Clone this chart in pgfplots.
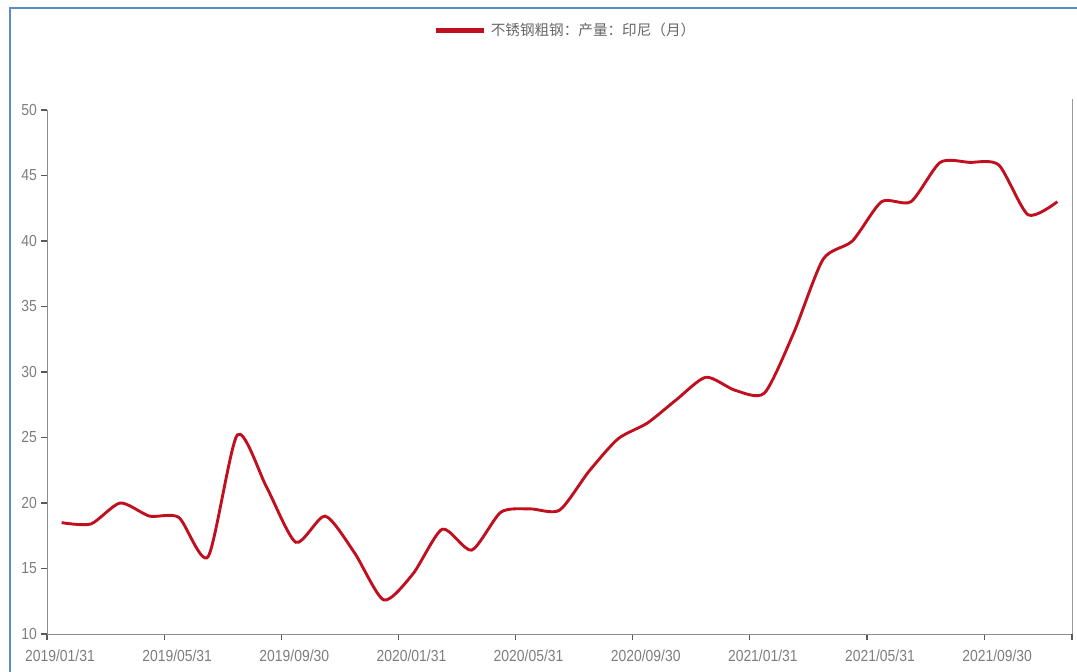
\documentclass[border=0pt]{standalone}
\usepackage{fontspec}
\setmainfont{Liberation Sans}[FakeStretch=0.87]
\newfontfamily\cjk{Noto Sans CJK SC}
\usepackage{pgfplots}
\pgfplotsset{compat=1.18}
\usepackage{pgfplotstable}

\definecolor{linered}{RGB}{192,16,32}
\definecolor{frameblue}{RGB}{90,140,205}
\definecolor{labelgray}{RGB}{125,125,125}

% monthly output, 2019/01 .. 2021/11
\pgfplotstableread{
i val
0 18.5
1 18.4
2 20.0
3 19.0
4 18.9
5 15.9
6 25.2
7 21.2
8 17.0
9 19.0
10 16.2
11 12.6
12 14.6
13 18.0
14 16.4
15 19.3
16 19.55
17 19.45
18 22.4
19 24.9
20 26.1
21 27.9
22 29.6
23 28.6
24 28.4
25 33.0
26 38.6
27 40.0
28 43.0
29 43.0
30 46.0
31 46.0
32 45.8
33 42.0
34 43.0
}\prodtable

\begin{document}
\begin{tikzpicture}
\path[use as bounding box] (-23.5pt,-19pt) rectangle (515pt,317pt);
\draw[frameblue, line width=1pt] (-18.5pt,-19pt) -- (-18.5pt,313pt) -- (515pt,313pt);
\begin{axis}[
  at={(0pt,0pt)}, anchor=south west,
  scale only axis, width=512.5pt, height=262pt,
  clip=false,
  xmin=-0.5, xmax=34.5, ymin=10, ymax=50,
  axis x line*=bottom, axis y line*=left,
  axis line style={draw=black!45, -},
  tick align=outside, major tick length=3pt,
  tick style={draw=black!65, line width=0.6pt},
  xtick={-0.5,3.5,7.5,11.5,15.5,19.5,23.5,27.5,31.5},
  xticklabels={2019/01/31,2019/05/31,2019/09/30,2020/01/31,2020/05/31,2020/09/30,2021/01/31,2021/05/31,2021/09/30},
  extra x ticks={34.5}, extra x tick labels={},
  xticklabel style={xshift=6.5pt, yshift=-1.5pt},
  yticklabel style={xshift=1.5pt},
  ytick={10,15,...,50},
  /pgf/number format/assume math mode=true,
  ticklabel style={font=\fontsize{8}{9}\selectfont, text=labelgray},
  legend style={draw=none, fill=none, inner sep=0pt,
    at={(axis description cs:0.377,1.1508)}, anchor=west,
    font=\fontsize{7.3}{9}\selectfont, text=black!60},
  legend image code/.code={\draw[linered, line width=2.5pt] (0pt,0pt) -- (24pt,0pt);},
]
\addplot[linered, line width=1.45pt, smooth, tension=0.42, no markers]
  table[x=i, y=val] {\prodtable};
\addlegendentry{\cjk 不锈钢粗钢：产量：印尼（月）}
\draw[black!40] (rel axis cs:1,0) -- (rel axis cs:1,1.021);
\end{axis}
\end{tikzpicture}
\end{document}
